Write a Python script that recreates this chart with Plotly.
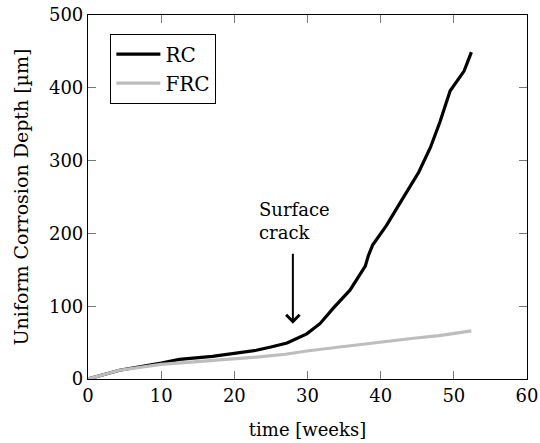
import plotly.graph_objects as go

# Uniform corrosion depth over time for plain (RC) and fibre-reinforced (FRC) concrete
rc_weeks = [0, 4.3, 10, 12.5, 17, 20, 23, 25, 27.2, 29.9, 31.7, 33.5, 35.8, 37.9, 38.3, 38.9, 40.8, 42.9, 45.2, 46.8, 48.1, 49.5, 51.4, 52.4]
rc_depth = [0, 12, 22, 27, 31, 35, 39.5, 44, 49.5, 62, 76, 97, 122, 155, 169, 184, 211, 246, 284, 318, 353, 396, 423, 449]

frc_weeks = [0, 4.3, 10, 15, 20, 23, 27, 29.9, 34.4, 39.9, 44.5, 48, 50, 52.4]
frc_depth = [0, 12, 20, 23.5, 27, 30, 34, 38.5, 44, 51, 56, 59.5, 62, 66]

crack_week = 28
arrow_tip = 76
arrow_tail = 174

x_ticks = [0, 10, 20, 30, 40, 50, 60]
y_ticks = [0, 100, 200, 300, 400, 500]

FONT = "DejaVu Serif"
SIZE = 18

fig = go.Figure()
fig.add_trace(go.Scatter(x=rc_weeks, y=rc_depth, mode="lines", name="RC",
                         line=dict(color="black", width=3.2)))
fig.add_trace(go.Scatter(x=frc_weeks, y=frc_depth, mode="lines", name="FRC",
                         line=dict(color="#bdbdbd", width=3.2)))

# arrow marking the onset of surface cracking
fig.add_annotation(x=crack_week, y=arrow_tip, ax=crack_week, ay=arrow_tail,
                   xref="x", yref="y", axref="x", ayref="y", text="",
                   showarrow=True, arrowhead=4, arrowsize=1.3, arrowwidth=2, arrowcolor="black")
fig.add_annotation(x=23.05, y=250, xref="x", yref="y", xanchor="left", yanchor="top",
                   text="Surface<br>crack", showarrow=False, align="left",
                   font=dict(family=FONT, size=SIZE, color="black"))

axis_common = dict(showline=True, linecolor="black", linewidth=1.2, mirror="ticks",
                   ticks="inside", ticklen=8, tickcolor="#777", tickwidth=1,
                   showgrid=False, zeroline=False, automargin=False,
                   tickfont=dict(family=FONT, size=SIZE, color="black"))

fig.update_xaxes(range=[0, 60], tickvals=x_ticks, **axis_common,
                 title=dict(text="time [weeks]", font=dict(family=FONT, size=SIZE, color="black"), standoff=18))
fig.update_yaxes(range=[0, 500], tickvals=y_ticks, **axis_common,
                 title=dict(text="Uniform Corrosion Depth [µm]", font=dict(family=FONT, size=19, color="black"), standoff=15))

fig.update_layout(
    width=540, height=443,
    font=dict(family=FONT, size=SIZE, color="black"),
    margin=dict(l=88, r=13, t=15, b=64, autoexpand=False),
    plot_bgcolor="white", paper_bgcolor="white",
    showlegend=True,
    legend=dict(x=0.051, y=0.949, xanchor="left", yanchor="top",
                bordercolor="black", borderwidth=1, bgcolor="white",
                font=dict(family=FONT, size=20, color="black"),
                tracegroupgap=0, itemwidth=44),
)

fig.write_html("out.html")
